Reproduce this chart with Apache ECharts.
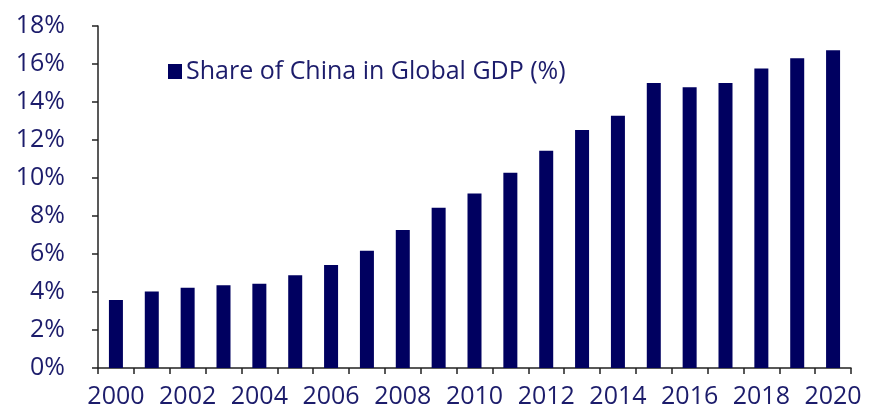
<!DOCTYPE html>
<html><head><meta charset="utf-8">
<script src="https://cdn.jsdelivr.net/npm/echarts@6/dist/echarts.min.js"></script>
<style>html,body{margin:0;padding:0;background:#fff;overflow:hidden}#c{width:871px;height:409px}</style>
</head><body><div id="c"></div>
<script>
const years = ['2000','2001','2002','2003','2004','2005','2006','2007','2008','2009','2010','2011','2012','2013','2014','2015','2016','2017','2018','2019','2020'];
const share = [3.58,4.02,4.23,4.35,4.44,4.88,5.42,6.17,7.26,8.43,9.18,10.27,11.44,12.52,13.27,15.0,14.78,15.0,15.76,16.30,16.72];
const seriesName = 'Share of China in Global GDP (%)';
const textColor = '#1c1c6b';
const font = '"Open Sans", "Noto Sans", sans-serif';
const chart = echarts.init(document.getElementById('c'), null, {renderer:'canvas'});
chart.setOption({
  animation:false,
  backgroundColor:'#fff',
  grid:{left:98,right:20,top:26,bottom:40,containLabel:false},
  legend:{
    left:163, top:54, itemWidth:14, itemHeight:15, itemGap:6,
    icon:'rect',
    textStyle:{color:textColor,fontSize:25,fontFamily:font,padding:[0,0,0,-1]},
    data:[seriesName]
  },
  xAxis:{
    type:'category', data:years, boundaryGap:true,
    axisLine:{lineStyle:{color:'#222',width:1.5}},
    axisTick:{show:true,alignWithLabel:false,interval:0,length:6,lineStyle:{color:'#222',width:1.5}},
    axisLabel:{interval:1,color:textColor,fontSize:25,fontFamily:font,margin:16}
  },
  yAxis:{
    type:'value', min:0, max:18, interval:2,
    axisLine:{show:true,lineStyle:{color:'#222',width:1.5}},
    axisTick:{show:true,length:6,lineStyle:{color:'#222',width:1.5}},
    splitLine:{show:false},
    axisLabel:{color:textColor,fontSize:25,fontFamily:font,margin:33,formatter:v=>v+'%'}
  },
  series:[{
    name:seriesName, type:'bar', data:share, barWidth:14,
    itemStyle:{color:'#000060'}
  }]
});
</script></body></html>
